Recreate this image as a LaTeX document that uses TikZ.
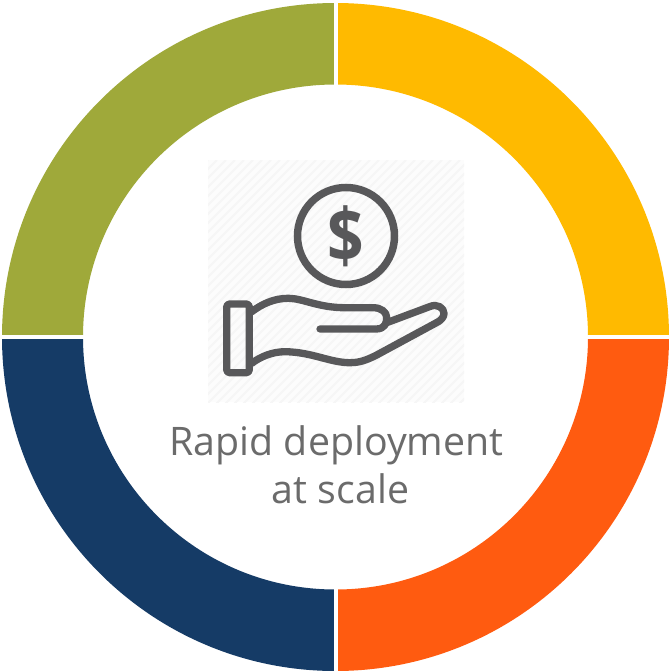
\documentclass[tikz,border=0pt]{standalone}
\usepackage{fontspec}
\setmainfont{Open Sans}
\definecolor{olivec}{HTML}{9FA93A}
\definecolor{yellowc}{HTML}{FFBA00}
\definecolor{orangec}{HTML}{FF5B10}
\definecolor{navyc}{HTML}{153B66}
\definecolor{iconc}{HTML}{58585A}
\definecolor{textc}{HTML}{6B6B6B}
\definecolor{hatchc}{HTML}{F6F6F6}
\definecolor{hatchbg}{HTML}{FCFCFC}
\tikzset{
  iconline/.style={draw=iconc,line width=7.3pt,line join=round,line cap=round},
  labeltext/.style={text=textc,font=\fontsize{39.3}{47.7}\selectfont,align=center,inner sep=0pt},
  gapbar/.style={fill=white,draw=none}
}
\newcommand{\quadseg}[3]{\fill[#1] ({335.5+333.5*cos(#2)},{337+334*sin(#2)}) arc[start angle=#2,end angle=#3,x radius=333.5,y radius=334] -- ({335.5+252.5*cos(#3)},{337+252.5*sin(#3)}) arc[start angle=#3,end angle=#2,radius=252.5] -- cycle;}
\begin{document}
\begin{tikzpicture}[x=1pt,y=1pt,yscale=-1]
\useasboundingbox (0,0) rectangle (669,672);
\fill[white] (0,0) rectangle (669,672);
% ring
\quadseg{orangec}{0}{90}
\quadseg{navyc}{90}{180}
\quadseg{olivec}{180}{270}
\quadseg{yellowc}{270}{360}
\fill[gapbar] (334.3,0) rectangle (337.7,672);
\fill[gapbar] (0,335.3) rectangle (669,338.7);
% hatched icon backdrop
\begin{scope}
\clip (208,160) rectangle (464,402);
\fill[hatchbg] (208,160) rectangle (464,402);
\foreach \k in {0,9,...,520}{
  \draw[hatchc,line width=2pt] (208+\k,160) -- (208+\k-260,420);
}
\end{scope}
% coin
\node[draw=iconc,line width=7.5pt,circle,minimum size=97pt,inner sep=0pt] (coin) at (346,236) {};
\node[text=iconc,font=\fontsize{64}{64}\selectfont\bfseries,inner sep=0pt] (dollar) at (346,236.5) {\scalebox{1}[1.17]{\$}};
% cuff
\draw[iconline,rounded corners=3pt] (226.7,304) rectangle (249.3,372.7);
% hand
\draw[iconline] (251.7,311.7) .. controls (262,304) and (274,298.3) .. (288.3,298.3)
  .. controls (303,298.3) and (318,307.7) .. (345,307.7)
  -- (373.3,307.7) .. controls (381,307.7) and (386.7,312) .. (386.7,317.5)
  .. controls (386.7,323) and (385,329) .. (376,329) -- (320,329);
\draw[iconline] (386.7,322.7) -- (430,306.5)
  .. controls (437,303.5) and (444,307.5) .. (444,313.5)
  .. controls (444,317) and (441,320) .. (438.3,321.7)
  -- (376.7,355) .. controls (365,361) and (358,362.7) .. (350,362.7)
  .. controls (330,362.7) and (312,352) .. (285,351.7)
  .. controls (272,351.7) and (260,357) .. (251.7,363.3);
% label
\node[labeltext] (label) at (336.5,465) {Rapid deployment\\\hspace*{8pt}at scale};
\end{tikzpicture}
\end{document}
